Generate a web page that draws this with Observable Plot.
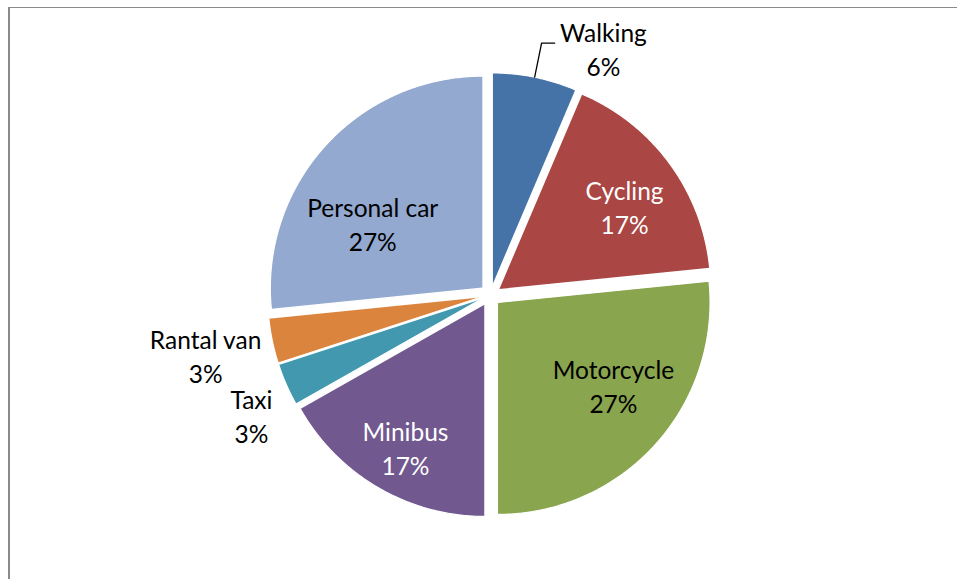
<!DOCTYPE html>
<html>
<head>
<meta charset="utf-8">
<script src="https://cdn.jsdelivr.net/npm/d3@7"></script>
<script src="https://cdn.jsdelivr.net/npm/@observablehq/plot@0.6"></script>
<style>
  html, body { margin: 0; padding: 0; background: #fff; }
  #wrap { position: relative; width: 957px; height: 579px; overflow: hidden; }
  #chart svg { display: block; }
  #frame { position: absolute; left: 8px; top: 7px; width: 980px; height: 620px;
           border-left: 2px solid #8a8a8a; border-top: 1px solid #8a8a8a; pointer-events: none; }
</style>
</head>
<body>
<div id="wrap"><div id="chart"></div><div id="frame"></div></div>
<script>
// ---- data ----
const names  = ["Walking", "Cycling", "Motorcycle", "Minibus", "Taxi", "Rantal van", "Personal car"];
const shares = [6.4, 17.0, 26.6, 16.8, 3.2, 3.4, 26.6];
const colors = ["#4572A7", "#AA4643", "#89A54E", "#71588F", "#4198AF", "#DB843D", "#93A9CF"];

// ---- label layout (polar: radius in pie radii, angle shift from slice mid, degrees) ----
const labelRadius = [1.268, 0.752, 0.729, 0.834, 1.267, 1.375, 0.642];
const labelShift  = [13.4, 3.8, -5.0, -1.6, -3.5, -0.6, -11.8];
const leaderFor   = ["Walking"];

// ---- layout constants ----
const W = 957, H = 579, R = 212, CX = 489.7, CY = 294.8, EXPLODE = 0.05;
const deg = Math.PI / 180;

const arcs = d3.pie().sort(null).value(d => d)(shares);

const slicePts = [];
const labelsDark = [], labelsLight = [];
const leaderPts = [];
arcs.forEach((a, i) => {
  const mid = (a.startAngle + a.endAngle) / 2;
  const ox = EXPLODE * Math.sin(mid), oy = EXPLODE * Math.cos(mid);
  slicePts.push({name: names[i], x: ox, y: oy});
  const n = Math.max(2, Math.ceil((a.endAngle - a.startAngle) / (0.5 * deg)));
  for (let k = 0; k <= n; k++) {
    const t = a.startAngle + (a.endAngle - a.startAngle) * k / n;
    slicePts.push({name: names[i], x: ox + Math.sin(t), y: oy + Math.cos(t)});
  }
  const la = mid + labelShift[i] * deg, lr = labelRadius[i];
  const row = {text: `${names[i]}\n${Math.round(shares[i])}%`, x: lr * Math.sin(la), y: lr * Math.cos(la)};
  const inside = lr < 1;
  const dark = d3.hcl(colors[i]).l < 50;
  (inside && dark ? labelsLight : labelsDark).push(row);
  if (leaderFor.includes(names[i])) {
    const sx = ox + Math.sin(mid), sy = oy + Math.cos(mid);
    const ex = 1.214 * Math.sin(mid), ey = 1.214 * Math.cos(mid);
    leaderPts.push({x: sx, y: sy}, {x: ex, y: ey}, {x: ex + 0.062, y: ey});
  }
});

const font = "Lato, 'Open Sans', sans-serif";
const textOpts = {x: "x", y: "y", text: "text", fontSize: 24.5, lineHeight: 1.39, dy: -3.5, fontFamily: font};
const chart = Plot.plot({
  width: W, height: H, margin: 0,
  style: {background: "white", fontFamily: font},
  x: {domain: [-CX / R, (W - CX) / R], axis: null},
  y: {domain: [(CY - H) / R, CY / R], axis: null},
  color: {domain: names, range: colors},
  marks: [
    Plot.line(slicePts, {x: "x", y: "y", z: "name", fill: "name", stroke: "white", strokeWidth: 1.2}),
    Plot.line(leaderPts, {x: "x", y: "y", stroke: "black", strokeWidth: 1.3}),
    Plot.text(labelsDark, {...textOpts, fill: "black"}),
    Plot.text(labelsLight, {...textOpts, fill: "white"})
  ]
});
document.getElementById("chart").append(chart);
</script>
</body>
</html>
